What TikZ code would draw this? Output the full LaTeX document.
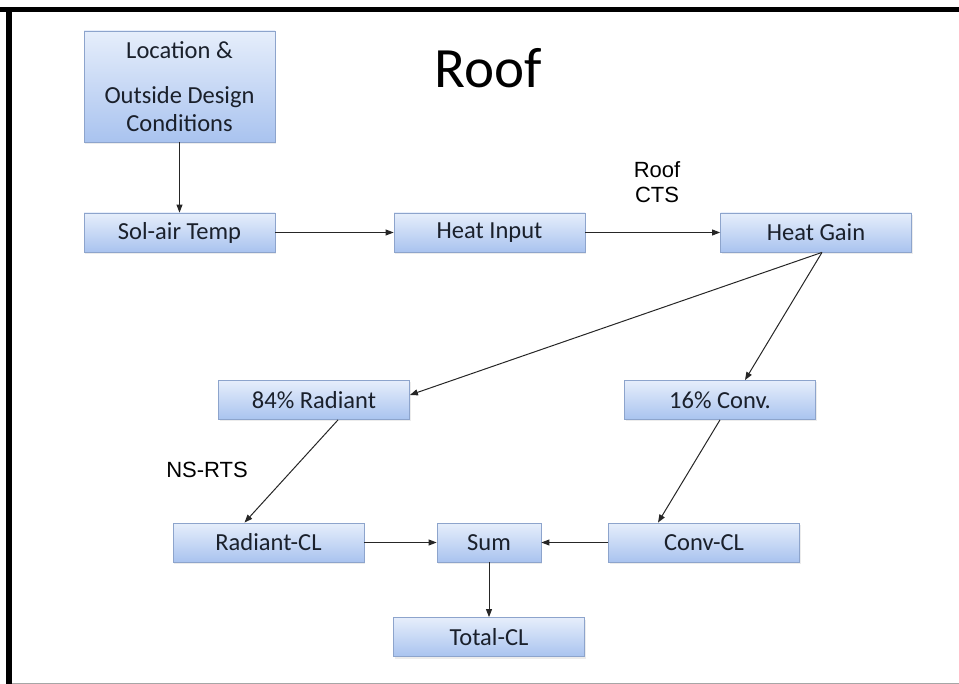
\documentclass[tikz,border=0pt]{standalone}
\usepackage{fontspec}
\setmainfont{Carlito}
\newfontfamily\arialfont{Liberation Sans}
\usetikzlibrary{arrows.meta,shadows}
\definecolor{boxtop}{HTML}{E6EEFB}
\definecolor{boxbot}{HTML}{A9C3EF}
\definecolor{boxline}{HTML}{8DA4CC}
\definecolor{boxtext}{HTML}{1A202B}
\tikzset{
  blk/.style={draw=boxline, line width=0.8pt, top color=boxtop, bottom color=boxbot,
    text=boxtext, font=\fontsize{24.5}{28}\selectfont, inner sep=0pt, minimum width=191pt,
    minimum height=39pt, drop shadow={opacity=0.15,shadow xshift=1pt,shadow yshift=-2pt}},
  arr/.style={-{Triangle[length=8pt,width=6pt]}, line width=1pt, draw=black!85},
  lbl/.style={font=\arialfont\fontsize{22}{25}\selectfont, align=center}
}
\begin{document}
\begin{tikzpicture}[x=1pt,y=-1pt]
\useasboundingbox (0,0) rectangle (959,684);
\fill (0,7) rectangle (959,12);
\fill (6,7) rectangle (12,684);
\draw [gray!70,line width=1pt] (12,683.5) -- (959,683.5);
\node [font=\fontsize{57}{62}\selectfont] (title) at (488,68) {Roof};
\node [blk,minimum height=111pt,align=center] (loc) at (179.5,86.5)
  {Location \&\\[17pt]Outside Design\\Conditions};
\node [blk] (sol) at (179.5,232.5) {Sol-air Temp};
\node [blk] (hin) at (489.5,232.5) {Heat Input};
\node [blk] (hg) at (816,232.5) {Heat Gain};
\node [blk] (rad) at (314,400) {84\% Radiant};
\node [blk] (conv) at (720,400) {16\% Conv.};
\node [blk] (radcl) at (268.5,542.5) {Radiant-CL};
\node [blk,minimum width=104pt] (sum) at (489,542.5) {Sum};
\node [blk] (convcl) at (704,542.5) {Conv-CL};
\node [blk] (tot) at (489,637) {Total-CL};
\node [lbl] (cts) at (657,182) {Roof\\CTS};
\node [lbl] (rts) at (207,470) {NS-RTS};
\draw [arr] (loc) -- (sol);
\draw [arr] (sol.east) -- (hin.west);
\draw [arr] (hin.east) -- (hg.west);
\draw [arr] ([xshift=6pt]hg.south) -- ([yshift=5pt]rad.east);
\draw [arr] ([xshift=6pt]hg.south) -- ([xshift=25pt]conv.north);
\draw [arr] ([xshift=24pt]rad.south) -- ([xshift=-24pt]radcl.north);
\draw [arr] (conv.south) -- ([xshift=-46pt]convcl.north);
\draw [arr] (radcl) -- (sum);
\draw [arr] (convcl) -- (sum);
\draw [arr] (sum) -- (tot);
\end{tikzpicture}
\end{document}
